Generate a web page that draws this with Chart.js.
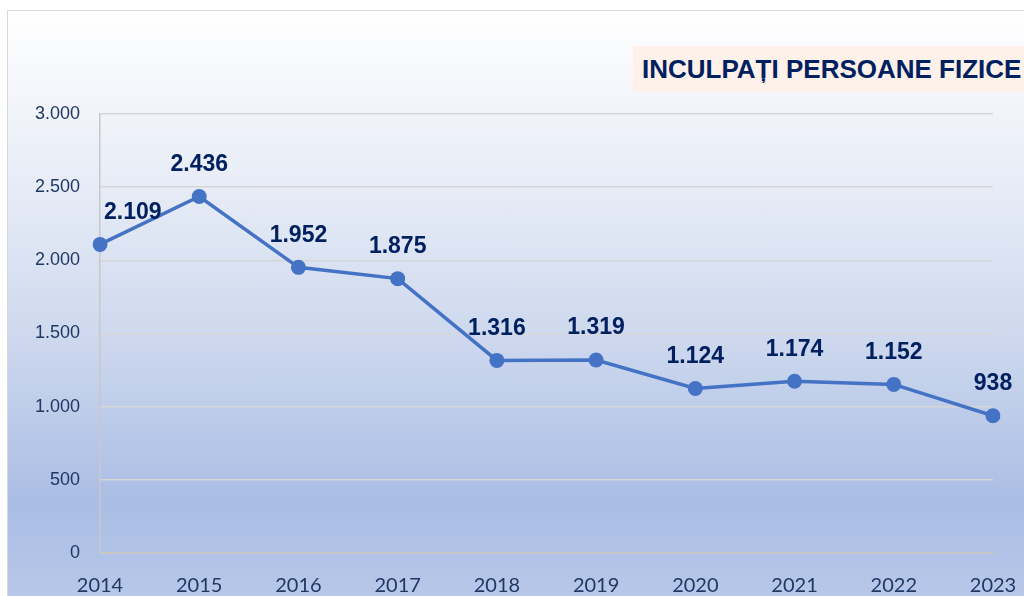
<!DOCTYPE html>
<html>
<head>
<meta charset="utf-8">
<script src="https://cdn.jsdelivr.net/npm/chart.js@4.4.1/dist/chart.umd.min.js"></script>
<style>
  html, body { margin: 0; padding: 0; background: #fff; }
  #wrap { position: relative; width: 1024px; height: 596px; overflow: hidden; }
  #bg {
    position: absolute; left: 7px; top: 10px; width: 1030px; height: 600px;
    border: 1px solid #d9d9d9;
    background: linear-gradient(to bottom, #ffffff 0%, #e6ebf6 30%, #cdd8ee 55%, #aabde4 82%, #b9c9ea 100%);
  }
  #title {
    position: absolute; left: 633px; top: 46px; width: 400px; height: 46px;
    background: #fdf1ea;
    color: #002060;
    font: bold 26px "Liberation Sans Narrow", "Arial Narrow", "Liberation Sans", sans-serif;
    line-height: 46px; padding-left: 9px; white-space: nowrap;
  }
  canvas { position: absolute; left: 0; top: 0; }
</style>
</head>
<body>
<div id="wrap">
  <div id="bg"></div>
  <div id="title">INCULPAȚI PERSOANE FIZICE</div>
  <canvas id="chart" width="1024" height="596"></canvas>
</div>
<script>
const years = ['2014', '2015', '2016', '2017', '2018', '2019', '2020', '2021', '2022', '2023'];
const inculpati = [2109, 2436, 1952, 1875, 1316, 1319, 1124, 1174, 1152, 938];
const yTicks = [0, 500, 1000, 1500, 2000, 2500, 3000];

function fmt(v) {
    return v.toString().replace(/\B(?=(\d{3})+(?!\d))/g, '.');
}

// etichete de date deasupra punctelor
const labelPlugin = {
    id: 'valueLabels',
    afterDatasetsDraw(chart) {
        const ctx = chart.ctx;
        const meta = chart.getDatasetMeta(0);
        ctx.save();
        ctx.font = 'bold 23px "Liberation Sans", Arial, sans-serif';
        ctx.fillStyle = '#002060';
        ctx.textBaseline = 'middle';
        meta.data.forEach((pt, i) => {
            const txt = fmt(inculpati[i]);
            const w = ctx.measureText(txt).width;
            let x = pt.x - w / 2;
            if (x < chart.chartArea.left) x = pt.x + 4;
            ctx.fillText(txt, x, pt.y - 32);
        });
        ctx.restore();
    }
};

new Chart(document.getElementById('chart'), {
    type: 'line',
    data: {
        labels: years,
        datasets: [{
            data: inculpati,
            borderColor: '#4472c4',
            backgroundColor: '#4472c4',
            borderWidth: 3.5,
            pointRadius: 7.5,
            pointHoverRadius: 7.5,
            pointBackgroundColor: '#4472c4',
            pointBorderWidth: 0,
            tension: 0
        }]
    },
    options: {
        responsive: false,
        animation: false,
        events: [],
        layout: {
            padding: { left: 0, right: 31, top: 114, bottom: 0 }
        },
        plugins: {
            legend: { display: false },
            tooltip: { enabled: false }
        },
        scales: {
            x: {
                offset: false,
                afterFit(scale) {
                    scale.height = 43;
                    scale.paddingLeft = 0;
                    scale.paddingRight = 0;
                },
                grid: { display: false, drawTicks: false },
                border: { color: '#c9c5bd', width: 1.5 },
                ticks: {
                    color: '#1f3864',
                    padding: 21,
                    maxRotation: 0,
                    autoSkip: false,
                    font: { family: 'Lato', size: 20 }
                }
            },
            y: {
                min: 0,
                max: 3000,
                afterFit(scale) {
                    scale.width = 100;
                    scale.paddingTop = 0;
                    scale.paddingBottom = 0;
                },
                afterBuildTicks(scale) {
                    scale.ticks = yTicks.map(v => ({ value: v }));
                },
                grid: {
                    color: '#d6d6d6',
                    lineWidth: 1.5,
                    drawTicks: false
                },
                border: { color: '#c8c8c8', width: 1.5 },
                ticks: {
                    color: '#1f3864',
                    padding: 20,
                    callback: v => fmt(v),
                    font: { family: '"Liberation Sans Narrow", "Arial Narrow", "Liberation Sans", sans-serif', size: 18 }
                }
            }
        }
    },
    plugins: [labelPlugin]
});
</script>
</body>
</html>
